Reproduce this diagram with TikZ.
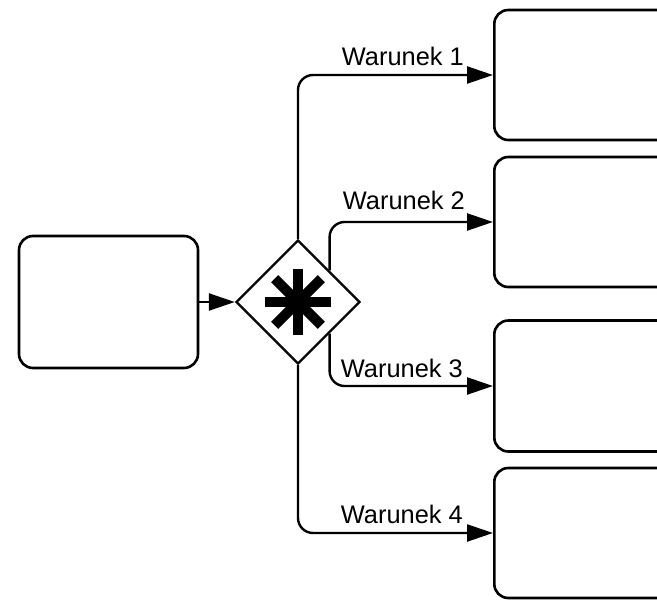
\documentclass[tikz,border=0pt]{standalone}
\usepackage{fontspec}
\setmainfont{Liberation Sans}
\usetikzlibrary{shapes.geometric,arrows.meta,calc}
\begin{document}
\begin{tikzpicture}[x=1pt,y=-1pt,
  taskbox/.style={draw,line width=2.6pt,rounded corners=14pt,inner sep=0pt,minimum width=#1},
  flow/.style={line width=2.4pt,rounded corners=15pt,-{Triangle[length=26pt,width=17pt]}},
  lbl/.style={font=\fontsize{25.4}{30}\selectfont,inner sep=0pt,anchor=base east}]
\useasboundingbox (0,0) rectangle (657,600);
\clip (0,0) rectangle (657,600);
\fill[white] (0,0) rectangle (657,600);
% source task
\node[taskbox=179pt,minimum height=132pt] (task) at (108.5,302) {};
% gateway
\node[draw,diamond,aspect=1,line width=2.4pt,inner sep=0pt,minimum size=124pt] (gw) at (298,302) {};
\foreach \a in {0,45,90,135}
  \draw[line width=10pt] ($(gw.center)+(\a:33)$) -- ($(gw.center)+(\a+180:33)$);
% target tasks (cut by the right edge)
\node[taskbox=240pt,minimum height=130pt,anchor=west] (t1) at (493,75) {};
\node[taskbox=240pt,minimum height=130pt,anchor=west] (t2) at (493,222) {};
\node[taskbox=240pt,minimum height=131pt,anchor=west] (t3) at (493,386) {};
\node[taskbox=240pt,minimum height=130pt,anchor=west] (t4) at (493,533) {};
% flows
\draw[flow] (task.east) -- (gw.west);
\draw[flow] (gw.north) |- (t1.west);
\draw[flow] (gw.north east) |- (t2.west);
\draw[flow] (gw.south east) |- (t3.west);
\draw[flow] (gw.south) |- (t4.west);
% labels
\node[lbl] (l1) at (464,65) {Warunek 1};
\node[lbl] (l2) at (465,209) {Warunek 2};
\node[lbl] (l3) at (463,377) {Warunek 3};
\node[lbl] (l4) at (463,523) {Warunek 4};
\end{tikzpicture}
\end{document}
